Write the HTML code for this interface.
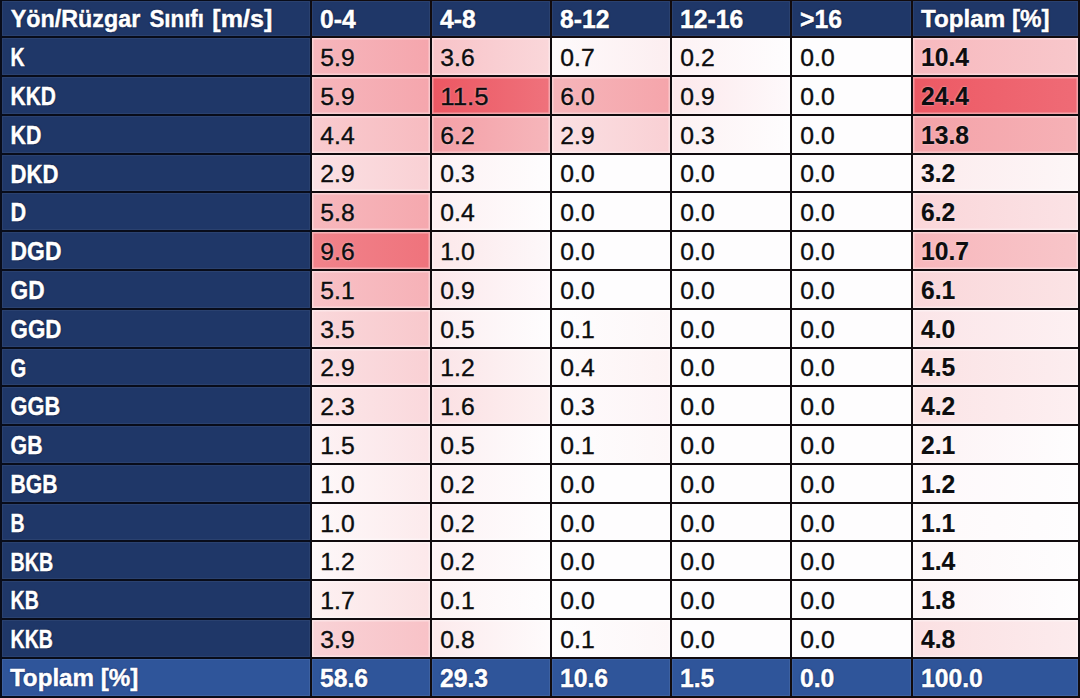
<!DOCTYPE html>
<html lang="tr"><head><meta charset="utf-8"><title>Rüzgar Sınıfı Tablosu</title>
<style>
html,body{margin:0;padding:0;}
body{width:1080px;height:698px;overflow:hidden;background:linear-gradient(90deg,#080c1a 0,#080c1a 311px,#110b0e 311px);position:relative;
 font-family:"Liberation Sans",Arial,sans-serif;}
.c{position:absolute;overflow:hidden;box-sizing:border-box;white-space:nowrap;}
.c span{position:absolute;left:0;top:0;display:block;transform-origin:0 0;line-height:1;}
.h{box-shadow:inset 0 0 0 1px rgba(255,255,255,.05);background:#1f3768;color:#fff;font-weight:bold;-webkit-text-stroke:0.45px #fff;text-shadow:0 0 2px rgba(4,10,40,.85),0 0 1px rgba(4,10,40,.6);}
.f{box-shadow:inset 0 0 0 1px rgba(255,255,255,.07);background:#2f559a;color:#fff;font-weight:bold;-webkit-text-stroke:0.45px #fff;text-shadow:0 0 2px rgba(8,24,80,.85),0 0 1px rgba(8,24,80,.6);}
.d{color:#0d0d0f;box-shadow:inset 0 0 0 1.5px rgba(255,255,255,.38);-webkit-text-stroke:0.35px #0d0d0f;text-shadow:0 0 2px rgba(255,255,255,.7);}
.t{font-weight:bold;-webkit-text-stroke:0.15px #0d0d0f;}
</style></head><body>
<div class="c h" style="left:2px;top:1px;width:308px;height:35px;"><span style="font-size:24.6px;transform:translate(8.80px,6.18px) scaleX(0.947);">Yön/Rüzgar</span> <span style="font-size:24.6px;transform:translate(147.40px,6.18px) scaleX(0.908);">Sınıfı</span> <span style="font-size:24.6px;transform:translate(210.30px,6.18px) scaleX(1.020);">[m/s]</span></div>
<div class="c h" style="left:312px;top:1px;width:118px;height:35px;"><span style="font-size:25.2px;transform:translate(8.00px,5.97px) scaleX(0.98);">0-4</span></div>
<div class="c h" style="left:432px;top:1px;width:118px;height:35px;"><span style="font-size:25.2px;transform:translate(8.00px,5.97px) scaleX(0.98);">4-8</span></div>
<div class="c h" style="left:552px;top:1px;width:118px;height:35px;"><span style="font-size:25.2px;transform:translate(8.00px,5.97px) scaleX(0.98);">8-12</span></div>
<div class="c h" style="left:672px;top:1px;width:118px;height:35px;"><span style="font-size:25.2px;transform:translate(8.00px,5.97px) scaleX(0.98);">12-16</span></div>
<div class="c h" style="left:792px;top:1px;width:119px;height:35px;"><span style="font-size:25.2px;transform:translate(8.00px,5.97px) scaleX(0.98);">&gt;16</span></div>
<div class="c h" style="left:913px;top:1px;width:165px;height:35px;"><span style="font-size:24.6px;transform:translate(8.00px,6.18px) scaleX(0.983);">Toplam [%]</span></div>
<div class="c h" style="left:2px;top:38px;width:308px;height:37px;"><span style="font-size:25.0px;transform:translate(8.60px,7.24px) scaleX(0.78);">K</span></div>
<div class="c d" style="left:312px;top:38px;width:118px;height:37px;background:linear-gradient(90deg,#f6b6bc,#f5a6ad);"><span style="font-size:24.0px;transform:translate(8.30px,8.08px) scaleX(1.03);">5.9</span></div>
<div class="c d" style="left:432px;top:38px;width:118px;height:37px;background:linear-gradient(90deg,#f8c3c8,#fad7da);"><span style="font-size:24.0px;transform:translate(8.30px,8.08px) scaleX(1.03);">3.6</span></div>
<div class="c d" style="left:552px;top:38px;width:118px;height:37px;background:linear-gradient(90deg,#fefafb,#fceef0);"><span style="font-size:24.0px;transform:translate(8.30px,8.08px) scaleX(1.03);">0.7</span></div>
<div class="c d" style="left:672px;top:38px;width:118px;height:37px;background:linear-gradient(90deg,#fdf2f4,#fefdfe);"><span style="font-size:24.0px;transform:translate(8.30px,8.08px) scaleX(1.03);">0.2</span></div>
<div class="c d" style="left:792px;top:38px;width:119px;height:37px;background:#fefdfe;"><span style="font-size:24.0px;transform:translate(8.30px,8.08px) scaleX(1.03);">0.0</span></div>
<div class="c d t" style="left:913px;top:38px;width:165px;height:37px;background:linear-gradient(90deg,#f7b9be,#f8c7cb);"><span style="font-size:25.2px;transform:translate(8.00px,7.07px) scaleX(0.98);">10.4</span></div>
<div class="c h" style="left:2px;top:77px;width:308px;height:37px;"><span style="font-size:25.0px;transform:translate(8.60px,7.03px) scaleX(0.838);">KKD</span></div>
<div class="c d" style="left:312px;top:77px;width:118px;height:37px;background:linear-gradient(90deg,#f6b6bc,#f5a6ad);"><span style="font-size:24.0px;transform:translate(8.30px,7.87px) scaleX(1.03);">5.9</span></div>
<div class="c d" style="left:432px;top:77px;width:118px;height:37px;background:linear-gradient(90deg,#ec5762,#ef727c);"><span style="font-size:24.0px;transform:translate(8.30px,7.87px) scaleX(1.075);">11.5</span></div>
<div class="c d" style="left:552px;top:77px;width:118px;height:37px;background:linear-gradient(90deg,#f6b5ba,#f5a5ab);"><span style="font-size:24.0px;transform:translate(8.30px,7.87px) scaleX(1.03);">6.0</span></div>
<div class="c d" style="left:672px;top:77px;width:118px;height:37px;background:linear-gradient(90deg,#fce8eb,#fef9fb);"><span style="font-size:24.0px;transform:translate(8.30px,7.87px) scaleX(1.03);">0.9</span></div>
<div class="c d" style="left:792px;top:77px;width:119px;height:37px;background:#fefdfe;"><span style="font-size:24.0px;transform:translate(8.30px,7.87px) scaleX(1.03);">0.0</span></div>
<div class="c d t" style="left:913px;top:77px;width:165px;height:37px;background:linear-gradient(90deg,#ed5964,#ef6b76);"><span style="font-size:25.2px;transform:translate(8.00px,6.86px) scaleX(0.98);">24.4</span></div>
<div class="c h" style="left:2px;top:116px;width:308px;height:37px;"><span style="font-size:25.0px;transform:translate(8.60px,6.82px) scaleX(0.853);">KD</span></div>
<div class="c d" style="left:312px;top:116px;width:118px;height:37px;background:linear-gradient(90deg,#f9cbcf,#f7bbc0);"><span style="font-size:24.0px;transform:translate(8.30px,7.66px) scaleX(1.03);">4.4</span></div>
<div class="c d" style="left:432px;top:116px;width:118px;height:37px;background:linear-gradient(90deg,#f49fa6,#f6b6bb);"><span style="font-size:24.0px;transform:translate(8.30px,7.66px) scaleX(1.03);">6.2</span></div>
<div class="c d" style="left:552px;top:116px;width:118px;height:37px;background:linear-gradient(90deg,#fbe0e3,#f9d0d4);"><span style="font-size:24.0px;transform:translate(8.30px,7.66px) scaleX(1.03);">2.9</span></div>
<div class="c d" style="left:672px;top:116px;width:118px;height:37px;background:linear-gradient(90deg,#fdf1f3,#fefdfe);"><span style="font-size:24.0px;transform:translate(8.30px,7.66px) scaleX(1.03);">0.3</span></div>
<div class="c d" style="left:792px;top:116px;width:119px;height:37px;background:#fefdfe;"><span style="font-size:24.0px;transform:translate(8.30px,7.66px) scaleX(1.03);">0.0</span></div>
<div class="c d t" style="left:913px;top:116px;width:165px;height:37px;background:linear-gradient(90deg,#f4a2a8,#f6b1b6);"><span style="font-size:25.2px;transform:translate(8.00px,6.65px) scaleX(0.98);">13.8</span></div>
<div class="c h" style="left:2px;top:155px;width:308px;height:36px;"><span style="font-size:25.0px;transform:translate(8.60px,6.61px) scaleX(0.884);">DKD</span></div>
<div class="c d" style="left:312px;top:155px;width:118px;height:36px;background:linear-gradient(90deg,#fbe0e3,#f9d0d4);"><span style="font-size:24.0px;transform:translate(8.30px,7.45px) scaleX(1.03);">2.9</span></div>
<div class="c d" style="left:432px;top:155px;width:118px;height:36px;background:linear-gradient(90deg,#fdf1f3,#fefdfe);"><span style="font-size:24.0px;transform:translate(8.30px,7.45px) scaleX(1.03);">0.3</span></div>
<div class="c d" style="left:552px;top:155px;width:118px;height:36px;background:#fefdfe;"><span style="font-size:24.0px;transform:translate(8.30px,7.45px) scaleX(1.03);">0.0</span></div>
<div class="c d" style="left:672px;top:155px;width:118px;height:36px;background:#fefdfe;"><span style="font-size:24.0px;transform:translate(8.30px,7.45px) scaleX(1.03);">0.0</span></div>
<div class="c d" style="left:792px;top:155px;width:119px;height:36px;background:#fefdfe;"><span style="font-size:24.0px;transform:translate(8.30px,7.45px) scaleX(1.03);">0.0</span></div>
<div class="c d t" style="left:913px;top:155px;width:165px;height:36px;background:linear-gradient(90deg,#fcebed,#fdf6f7);"><span style="font-size:25.2px;transform:translate(8.00px,6.44px) scaleX(0.98);">3.2</span></div>
<div class="c h" style="left:2px;top:193px;width:308px;height:37px;"><span style="font-size:25.0px;transform:translate(8.60px,7.40px) scaleX(0.867);">D</span></div>
<div class="c d" style="left:312px;top:193px;width:118px;height:37px;background:linear-gradient(90deg,#f7b8bd,#f5a8ae);"><span style="font-size:24.0px;transform:translate(8.30px,8.24px) scaleX(1.03);">5.8</span></div>
<div class="c d" style="left:432px;top:193px;width:118px;height:37px;background:linear-gradient(90deg,#fdeff1,#fefdfe);"><span style="font-size:24.0px;transform:translate(8.30px,8.24px) scaleX(1.03);">0.4</span></div>
<div class="c d" style="left:552px;top:193px;width:118px;height:37px;background:#fefdfe;"><span style="font-size:24.0px;transform:translate(8.30px,8.24px) scaleX(1.03);">0.0</span></div>
<div class="c d" style="left:672px;top:193px;width:118px;height:37px;background:#fefdfe;"><span style="font-size:24.0px;transform:translate(8.30px,8.24px) scaleX(1.03);">0.0</span></div>
<div class="c d" style="left:792px;top:193px;width:119px;height:37px;background:#fefdfe;"><span style="font-size:24.0px;transform:translate(8.30px,8.24px) scaleX(1.03);">0.0</span></div>
<div class="c d t" style="left:913px;top:193px;width:165px;height:37px;background:linear-gradient(90deg,#fad6d9,#fbe2e5);"><span style="font-size:25.2px;transform:translate(8.00px,7.23px) scaleX(0.98);">6.2</span></div>
<div class="c h" style="left:2px;top:232px;width:308px;height:37px;"><span style="font-size:25.0px;transform:translate(8.60px,7.19px) scaleX(0.914);">DGD</span></div>
<div class="c d" style="left:312px;top:232px;width:118px;height:37px;background:linear-gradient(90deg,#f1838b,#ef737c);"><span style="font-size:24.0px;transform:translate(8.30px,8.03px) scaleX(1.03);">9.6</span></div>
<div class="c d" style="left:432px;top:232px;width:118px;height:37px;background:linear-gradient(90deg,#fce7e9,#fdf8fa);"><span style="font-size:24.0px;transform:translate(8.30px,8.03px) scaleX(1.03);">1.0</span></div>
<div class="c d" style="left:552px;top:232px;width:118px;height:37px;background:#fefdfe;"><span style="font-size:24.0px;transform:translate(8.30px,8.03px) scaleX(1.03);">0.0</span></div>
<div class="c d" style="left:672px;top:232px;width:118px;height:37px;background:#fefdfe;"><span style="font-size:24.0px;transform:translate(8.30px,8.03px) scaleX(1.03);">0.0</span></div>
<div class="c d" style="left:792px;top:232px;width:119px;height:37px;background:#fefdfe;"><span style="font-size:24.0px;transform:translate(8.30px,8.03px) scaleX(1.03);">0.0</span></div>
<div class="c d t" style="left:913px;top:232px;width:165px;height:37px;background:linear-gradient(90deg,#f7b7bc,#f8c5c9);"><span style="font-size:25.2px;transform:translate(8.00px,7.02px) scaleX(0.98);">10.7</span></div>
<div class="c h" style="left:2px;top:271px;width:308px;height:37px;"><span style="font-size:25.0px;transform:translate(8.60px,6.98px) scaleX(0.907);">GD</span></div>
<div class="c d" style="left:312px;top:271px;width:118px;height:37px;background:linear-gradient(90deg,#f8c1c6,#f6b1b7);"><span style="font-size:24.0px;transform:translate(8.30px,7.82px) scaleX(1.03);">5.1</span></div>
<div class="c d" style="left:432px;top:271px;width:118px;height:37px;background:linear-gradient(90deg,#fce8eb,#fef9fb);"><span style="font-size:24.0px;transform:translate(8.30px,7.82px) scaleX(1.03);">0.9</span></div>
<div class="c d" style="left:552px;top:271px;width:118px;height:37px;background:#fefdfe;"><span style="font-size:24.0px;transform:translate(8.30px,7.82px) scaleX(1.03);">0.0</span></div>
<div class="c d" style="left:672px;top:271px;width:118px;height:37px;background:#fefdfe;"><span style="font-size:24.0px;transform:translate(8.30px,7.82px) scaleX(1.03);">0.0</span></div>
<div class="c d" style="left:792px;top:271px;width:119px;height:37px;background:#fefdfe;"><span style="font-size:24.0px;transform:translate(8.30px,7.82px) scaleX(1.03);">0.0</span></div>
<div class="c d t" style="left:913px;top:271px;width:165px;height:37px;background:linear-gradient(90deg,#fad7da,#fbe3e5);"><span style="font-size:25.2px;transform:translate(8.00px,6.81px) scaleX(0.98);">6.1</span></div>
<div class="c h" style="left:2px;top:310px;width:308px;height:37px;"><span style="font-size:25.0px;transform:translate(8.60px,6.77px) scaleX(0.893);">GGD</span></div>
<div class="c d" style="left:312px;top:310px;width:118px;height:37px;background:linear-gradient(90deg,#fad8db,#f8c8cc);"><span style="font-size:24.0px;transform:translate(8.30px,7.61px) scaleX(1.03);">3.5</span></div>
<div class="c d" style="left:432px;top:310px;width:118px;height:37px;background:linear-gradient(90deg,#fceef0,#fefdfe);"><span style="font-size:24.0px;transform:translate(8.30px,7.61px) scaleX(1.03);">0.5</span></div>
<div class="c d" style="left:552px;top:310px;width:118px;height:37px;background:linear-gradient(90deg,#fefdfe,#fdf7f8);"><span style="font-size:24.0px;transform:translate(8.30px,7.61px) scaleX(1.03);">0.1</span></div>
<div class="c d" style="left:672px;top:310px;width:118px;height:37px;background:#fefdfe;"><span style="font-size:24.0px;transform:translate(8.30px,7.61px) scaleX(1.03);">0.0</span></div>
<div class="c d" style="left:792px;top:310px;width:119px;height:37px;background:#fefdfe;"><span style="font-size:24.0px;transform:translate(8.30px,7.61px) scaleX(1.03);">0.0</span></div>
<div class="c d t" style="left:913px;top:310px;width:165px;height:37px;background:linear-gradient(90deg,#fbe5e8,#fdf0f2);"><span style="font-size:25.2px;transform:translate(8.00px,6.60px) scaleX(0.98);">4.0</span></div>
<div class="c h" style="left:2px;top:349px;width:308px;height:36px;"><span style="font-size:25.0px;transform:translate(8.60px,6.56px) scaleX(0.809);">G</span></div>
<div class="c d" style="left:312px;top:349px;width:118px;height:36px;background:linear-gradient(90deg,#fbe0e3,#f9d0d4);"><span style="font-size:24.0px;transform:translate(8.30px,7.40px) scaleX(1.03);">2.9</span></div>
<div class="c d" style="left:432px;top:349px;width:118px;height:36px;background:linear-gradient(90deg,#fbe4e7,#fdf6f7);"><span style="font-size:24.0px;transform:translate(8.30px,7.40px) scaleX(1.03);">1.2</span></div>
<div class="c d" style="left:552px;top:349px;width:118px;height:36px;background:linear-gradient(90deg,#fefbfc,#fdf3f4);"><span style="font-size:24.0px;transform:translate(8.30px,7.40px) scaleX(1.03);">0.4</span></div>
<div class="c d" style="left:672px;top:349px;width:118px;height:36px;background:#fefdfe;"><span style="font-size:24.0px;transform:translate(8.30px,7.40px) scaleX(1.03);">0.0</span></div>
<div class="c d" style="left:792px;top:349px;width:119px;height:36px;background:#fefdfe;"><span style="font-size:24.0px;transform:translate(8.30px,7.40px) scaleX(1.03);">0.0</span></div>
<div class="c d t" style="left:913px;top:349px;width:165px;height:36px;background:linear-gradient(90deg,#fbe2e4,#fcedef);"><span style="font-size:25.2px;transform:translate(8.00px,6.39px) scaleX(0.98);">4.5</span></div>
<div class="c h" style="left:2px;top:387px;width:308px;height:37px;"><span style="font-size:25.0px;transform:translate(8.60px,7.35px) scaleX(0.87);">GGB</span></div>
<div class="c d" style="left:312px;top:387px;width:118px;height:37px;background:linear-gradient(90deg,#fce8ea,#fad8dc);"><span style="font-size:24.0px;transform:translate(8.30px,8.19px) scaleX(1.03);">2.3</span></div>
<div class="c d" style="left:432px;top:387px;width:118px;height:37px;background:linear-gradient(90deg,#fbdfe2,#fdf1f2);"><span style="font-size:24.0px;transform:translate(8.30px,8.19px) scaleX(1.03);">1.6</span></div>
<div class="c d" style="left:552px;top:387px;width:118px;height:37px;background:linear-gradient(90deg,#fefcfd,#fdf4f6);"><span style="font-size:24.0px;transform:translate(8.30px,8.19px) scaleX(1.03);">0.3</span></div>
<div class="c d" style="left:672px;top:387px;width:118px;height:37px;background:#fefdfe;"><span style="font-size:24.0px;transform:translate(8.30px,8.19px) scaleX(1.03);">0.0</span></div>
<div class="c d" style="left:792px;top:387px;width:119px;height:37px;background:#fefdfe;"><span style="font-size:24.0px;transform:translate(8.30px,8.19px) scaleX(1.03);">0.0</span></div>
<div class="c d t" style="left:913px;top:387px;width:165px;height:37px;background:linear-gradient(90deg,#fbe4e6,#fdeff1);"><span style="font-size:25.2px;transform:translate(8.00px,7.18px) scaleX(0.98);">4.2</span></div>
<div class="c h" style="left:2px;top:426px;width:308px;height:37px;"><span style="font-size:25.0px;transform:translate(8.60px,7.14px) scaleX(0.853);">GB</span></div>
<div class="c d" style="left:312px;top:426px;width:118px;height:37px;background:linear-gradient(90deg,#fdf3f5,#fbe3e6);"><span style="font-size:24.0px;transform:translate(8.30px,7.98px) scaleX(1.03);">1.5</span></div>
<div class="c d" style="left:432px;top:426px;width:118px;height:37px;background:linear-gradient(90deg,#fceef0,#fefdfe);"><span style="font-size:24.0px;transform:translate(8.30px,7.98px) scaleX(1.03);">0.5</span></div>
<div class="c d" style="left:552px;top:426px;width:118px;height:37px;background:linear-gradient(90deg,#fefdfe,#fdf7f8);"><span style="font-size:24.0px;transform:translate(8.30px,7.98px) scaleX(1.03);">0.1</span></div>
<div class="c d" style="left:672px;top:426px;width:118px;height:37px;background:#fefdfe;"><span style="font-size:24.0px;transform:translate(8.30px,7.98px) scaleX(1.03);">0.0</span></div>
<div class="c d" style="left:792px;top:426px;width:119px;height:37px;background:#fefdfe;"><span style="font-size:24.0px;transform:translate(8.30px,7.98px) scaleX(1.03);">0.0</span></div>
<div class="c d t" style="left:913px;top:426px;width:165px;height:37px;background:linear-gradient(90deg,#fdf2f4,#fefdfe);"><span style="font-size:25.2px;transform:translate(8.00px,6.97px) scaleX(0.98);">2.1</span></div>
<div class="c h" style="left:2px;top:465px;width:308px;height:37px;"><span style="font-size:25.0px;transform:translate(8.60px,6.93px) scaleX(0.845);">BGB</span></div>
<div class="c d" style="left:312px;top:465px;width:118px;height:37px;background:linear-gradient(90deg,#fef9fa,#fceaec);"><span style="font-size:24.0px;transform:translate(8.30px,7.77px) scaleX(1.03);">1.0</span></div>
<div class="c d" style="left:432px;top:465px;width:118px;height:37px;background:linear-gradient(90deg,#fdf2f4,#fefdfe);"><span style="font-size:24.0px;transform:translate(8.30px,7.77px) scaleX(1.03);">0.2</span></div>
<div class="c d" style="left:552px;top:465px;width:118px;height:37px;background:#fefdfe;"><span style="font-size:24.0px;transform:translate(8.30px,7.77px) scaleX(1.03);">0.0</span></div>
<div class="c d" style="left:672px;top:465px;width:118px;height:37px;background:#fefdfe;"><span style="font-size:24.0px;transform:translate(8.30px,7.77px) scaleX(1.03);">0.0</span></div>
<div class="c d" style="left:792px;top:465px;width:119px;height:37px;background:#fefdfe;"><span style="font-size:24.0px;transform:translate(8.30px,7.77px) scaleX(1.03);">0.0</span></div>
<div class="c d t" style="left:913px;top:465px;width:165px;height:37px;background:linear-gradient(90deg,#fef8fa,#fefdfe);"><span style="font-size:25.2px;transform:translate(8.00px,6.76px) scaleX(0.98);">1.2</span></div>
<div class="c h" style="left:2px;top:504px;width:308px;height:36px;"><span style="font-size:25.0px;transform:translate(8.60px,6.72px) scaleX(0.78);">B</span></div>
<div class="c d" style="left:312px;top:504px;width:118px;height:36px;background:linear-gradient(90deg,#fef9fa,#fceaec);"><span style="font-size:24.0px;transform:translate(8.30px,7.56px) scaleX(1.03);">1.0</span></div>
<div class="c d" style="left:432px;top:504px;width:118px;height:36px;background:linear-gradient(90deg,#fdf2f4,#fefdfe);"><span style="font-size:24.0px;transform:translate(8.30px,7.56px) scaleX(1.03);">0.2</span></div>
<div class="c d" style="left:552px;top:504px;width:118px;height:36px;background:#fefdfe;"><span style="font-size:24.0px;transform:translate(8.30px,7.56px) scaleX(1.03);">0.0</span></div>
<div class="c d" style="left:672px;top:504px;width:118px;height:36px;background:#fefdfe;"><span style="font-size:24.0px;transform:translate(8.30px,7.56px) scaleX(1.03);">0.0</span></div>
<div class="c d" style="left:792px;top:504px;width:119px;height:36px;background:#fefdfe;"><span style="font-size:24.0px;transform:translate(8.30px,7.56px) scaleX(1.03);">0.0</span></div>
<div class="c d t" style="left:913px;top:504px;width:165px;height:36px;background:linear-gradient(90deg,#fef9fa,#fefdfe);"><span style="font-size:25.2px;transform:translate(8.00px,6.55px) scaleX(0.98);">1.1</span></div>
<div class="c h" style="left:2px;top:542px;width:308px;height:37px;"><span style="font-size:25.0px;transform:translate(8.60px,7.51px) scaleX(0.788);">BKB</span></div>
<div class="c d" style="left:312px;top:542px;width:118px;height:37px;background:linear-gradient(90deg,#fdf8f9,#fce8ea);"><span style="font-size:24.0px;transform:translate(8.30px,8.35px) scaleX(1.03);">1.2</span></div>
<div class="c d" style="left:432px;top:542px;width:118px;height:37px;background:linear-gradient(90deg,#fdf2f4,#fefdfe);"><span style="font-size:24.0px;transform:translate(8.30px,8.35px) scaleX(1.03);">0.2</span></div>
<div class="c d" style="left:552px;top:542px;width:118px;height:37px;background:#fefdfe;"><span style="font-size:24.0px;transform:translate(8.30px,8.35px) scaleX(1.03);">0.0</span></div>
<div class="c d" style="left:672px;top:542px;width:118px;height:37px;background:#fefdfe;"><span style="font-size:24.0px;transform:translate(8.30px,8.35px) scaleX(1.03);">0.0</span></div>
<div class="c d" style="left:792px;top:542px;width:119px;height:37px;background:#fefdfe;"><span style="font-size:24.0px;transform:translate(8.30px,8.35px) scaleX(1.03);">0.0</span></div>
<div class="c d t" style="left:913px;top:542px;width:165px;height:37px;background:linear-gradient(90deg,#fdf7f8,#fefdfe);"><span style="font-size:25.2px;transform:translate(8.00px,7.34px) scaleX(0.98);">1.4</span></div>
<div class="c h" style="left:2px;top:581px;width:308px;height:37px;"><span style="font-size:25.0px;transform:translate(8.60px,7.30px) scaleX(0.78);">KB</span></div>
<div class="c d" style="left:312px;top:581px;width:118px;height:37px;background:linear-gradient(90deg,#fdf1f2,#fbe1e3);"><span style="font-size:24.0px;transform:translate(8.30px,8.14px) scaleX(1.03);">1.7</span></div>
<div class="c d" style="left:432px;top:581px;width:118px;height:37px;background:linear-gradient(90deg,#fdf4f5,#fefdfe);"><span style="font-size:24.0px;transform:translate(8.30px,8.14px) scaleX(1.03);">0.1</span></div>
<div class="c d" style="left:552px;top:581px;width:118px;height:37px;background:#fefdfe;"><span style="font-size:24.0px;transform:translate(8.30px,8.14px) scaleX(1.03);">0.0</span></div>
<div class="c d" style="left:672px;top:581px;width:118px;height:37px;background:#fefdfe;"><span style="font-size:24.0px;transform:translate(8.30px,8.14px) scaleX(1.03);">0.0</span></div>
<div class="c d" style="left:792px;top:581px;width:119px;height:37px;background:#fefdfe;"><span style="font-size:24.0px;transform:translate(8.30px,8.14px) scaleX(1.03);">0.0</span></div>
<div class="c d t" style="left:913px;top:581px;width:165px;height:37px;background:linear-gradient(90deg,#fdf4f6,#fefdfe);"><span style="font-size:25.2px;transform:translate(8.00px,7.13px) scaleX(0.98);">1.8</span></div>
<div class="c h" style="left:2px;top:620px;width:308px;height:37px;"><span style="font-size:25.0px;transform:translate(8.60px,7.09px) scaleX(0.78);">KKB</span></div>
<div class="c d" style="left:312px;top:620px;width:118px;height:37px;background:linear-gradient(90deg,#f9d2d6,#f8c2c7);"><span style="font-size:24.0px;transform:translate(8.30px,7.93px) scaleX(1.03);">3.9</span></div>
<div class="c d" style="left:432px;top:620px;width:118px;height:37px;background:linear-gradient(90deg,#fceaec,#fefbfc);"><span style="font-size:24.0px;transform:translate(8.30px,7.93px) scaleX(1.03);">0.8</span></div>
<div class="c d" style="left:552px;top:620px;width:118px;height:37px;background:linear-gradient(90deg,#fefdfe,#fdf7f8);"><span style="font-size:24.0px;transform:translate(8.30px,7.93px) scaleX(1.03);">0.1</span></div>
<div class="c d" style="left:672px;top:620px;width:118px;height:37px;background:#fefdfe;"><span style="font-size:24.0px;transform:translate(8.30px,7.93px) scaleX(1.03);">0.0</span></div>
<div class="c d" style="left:792px;top:620px;width:119px;height:37px;background:#fefdfe;"><span style="font-size:24.0px;transform:translate(8.30px,7.93px) scaleX(1.03);">0.0</span></div>
<div class="c d t" style="left:913px;top:620px;width:165px;height:37px;background:linear-gradient(90deg,#fbe0e2,#fcebed);"><span style="font-size:25.2px;transform:translate(8.00px,6.92px) scaleX(0.98);">4.8</span></div>
<div class="c f" style="left:2px;top:659px;width:308px;height:37px;"><span style="font-size:24.6px;transform:translate(7.90px,7.32px) scaleX(0.983);">Toplam [%]</span></div>
<div class="c f" style="left:312px;top:659px;width:118px;height:37px;"><span style="font-size:25.2px;transform:translate(8.00px,7.11px) scaleX(0.98);">58.6</span></div>
<div class="c f" style="left:432px;top:659px;width:118px;height:37px;"><span style="font-size:25.2px;transform:translate(8.00px,7.11px) scaleX(0.98);">29.3</span></div>
<div class="c f" style="left:552px;top:659px;width:118px;height:37px;"><span style="font-size:25.2px;transform:translate(8.00px,7.11px) scaleX(0.98);">10.6</span></div>
<div class="c f" style="left:672px;top:659px;width:118px;height:37px;"><span style="font-size:25.2px;transform:translate(8.00px,7.11px) scaleX(0.98);">1.5</span></div>
<div class="c f" style="left:792px;top:659px;width:119px;height:37px;"><span style="font-size:25.2px;transform:translate(8.00px,7.11px) scaleX(0.98);">0.0</span></div>
<div class="c f" style="left:913px;top:659px;width:165px;height:37px;"><span style="font-size:25.2px;transform:translate(8.00px,7.11px) scaleX(0.98);">100.0</span></div>
</body></html>
